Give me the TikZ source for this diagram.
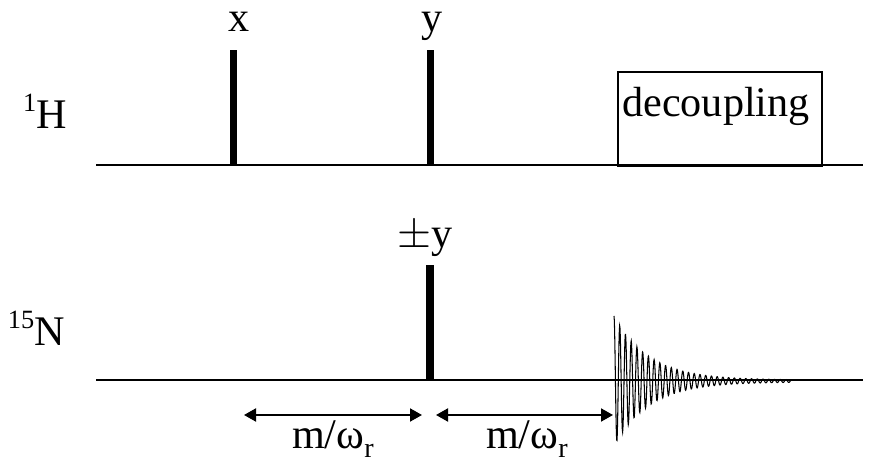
\documentclass[tikz,border=0pt]{standalone}
\usepackage{fontspec}
\setmainfont{Liberation Serif}
\usetikzlibrary{arrows.meta,positioning}

\newcommand{\isotope}[2]{\raisebox{0.42em}{\fontsize{15}{17}\selectfont #1}#2}
\newcommand{\subr}{\raisebox{-0.2em}{\fontsize{16}{18}\selectfont r}}

\begin{document}
\begin{tikzpicture}[x=0.02cm, y=-0.02cm,
    every node/.style={font=\fontsize{24}{28}\selectfont, inner sep=0pt},
    channel/.style={line width=0.75pt},
    pulse/.style={fill=black},
    timing/.style={{Triangle[length=0.24cm,width=0.26cm]}-{Triangle[length=0.24cm,width=0.26cm]}, line width=1.1pt},
    fid/.style={line width=0.6pt}]

    \useasboundingbox (0,0) rectangle (879,465);

    % 1H channel
    \coordinate (hstart) at (96,165);
    \coordinate (hend) at (863,165);
    \draw[channel] (hstart) -- (hend);
    \node[anchor=base east] (hlabel) at (67,129) {\isotope{1}{H}};

    % x pulse
    \fill[pulse] (230,50) rectangle (237,165);
    \node[anchor=base] (xlabel) at (239,32) {x};

    % y pulse
    \fill[pulse] (426.5,50) rectangle (433.5,165);
    \node[anchor=base] (ylabel) at (432,32) {y};

    % decoupling
    \draw[line width=0.6pt] (618,166) rectangle (822,72);
    \node[anchor=base] (decoupling) at (716,117) {decoupling};

    % 15N channel
    \coordinate (nstart) at (96,380);
    \coordinate (nend) at (863,380);
    \draw[channel] (nstart) -- (nend);
    \node[anchor=base east] (nlabel) at (65,346) {\isotope{15}{N}};

    % +-y pulse
    \fill[pulse] (426,265) rectangle (434,380);
    \node[anchor=base] (pmylabel) at (425,248) {$\pm$y};

    % fid
    \draw[fid] plot[domain=0:178, samples=600] ({614+\x}, {381-(64*exp(-\x/35)+1)*cos(62.8*\x)});

    % delays
    \coordinate (d1start) at (244,415);
    \coordinate (d1end) at (422,415);
    \coordinate (d2start) at (436,415);
    \coordinate (d2end) at (613,415);
    \draw[timing] (d1start) -- (d1end);
    \draw[timing] (d2start) -- (d2end);
    \node[anchor=base] (delay1) at (333,449) {m/ω\subr};
    \node[anchor=base] (delay2) at (527,449) {m/ω\subr};

\end{tikzpicture}
\end{document}
